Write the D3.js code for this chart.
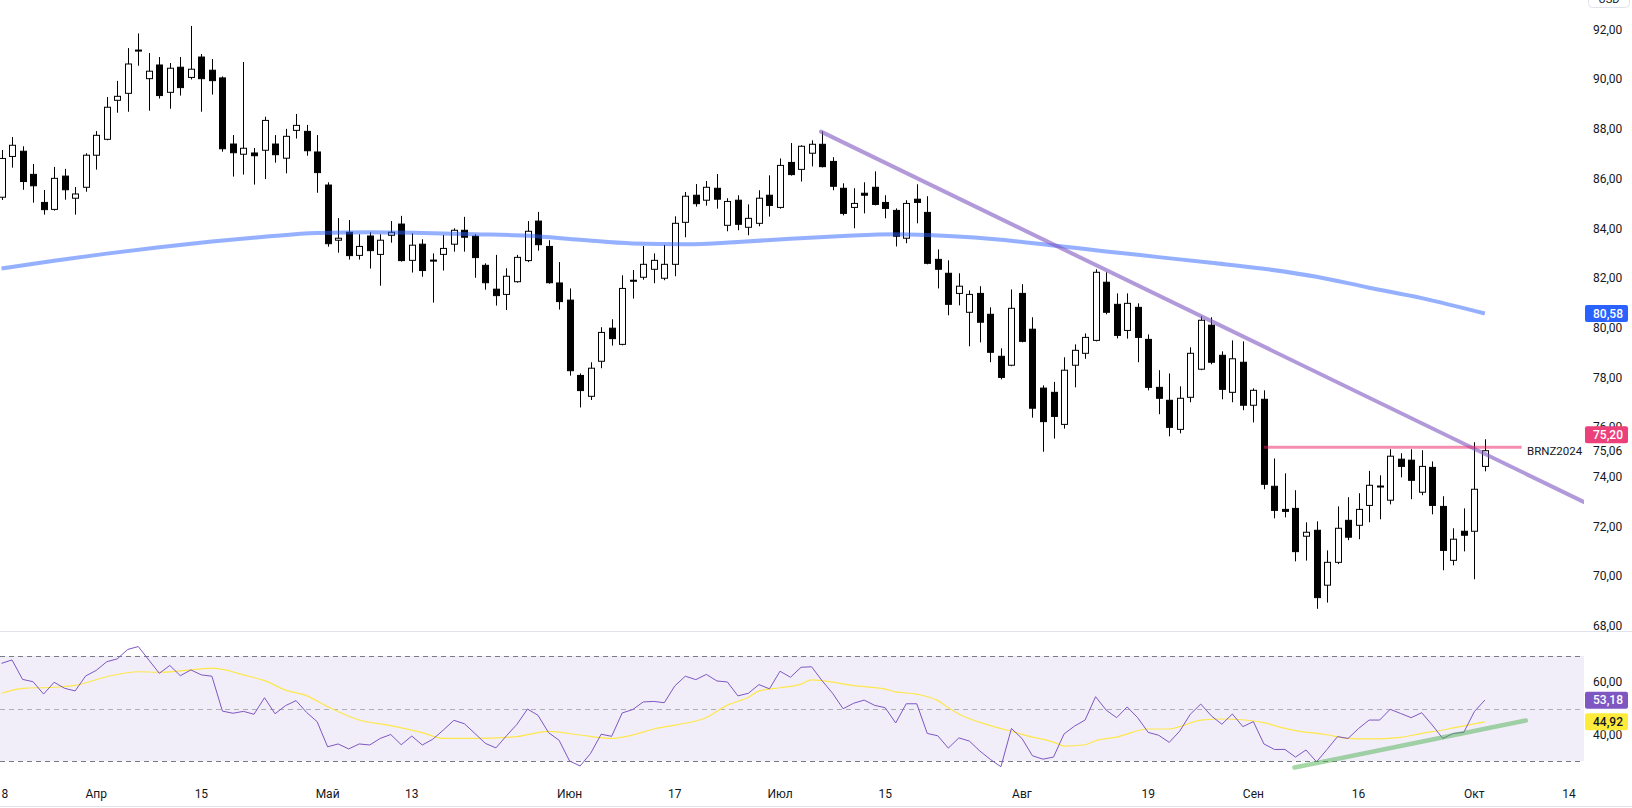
<!DOCTYPE html>
<html>
<head>
<meta charset="utf-8">
<script src="https://cdn.jsdelivr.net/npm/d3@7"></script>
<style>
  body { margin: 0; background: #fff; }
  text { font-family: Roboto, "Liberation Sans", Arial, sans-serif; }
</style>
</head>
<body>
<div id="chart"></div>
<script>
// BRNZ2024 daily candles with 200 MA, trend lines and RSI pane

// candle values, one per trading day (18 Mar .. 2 Oct)
const opens = [85.26,86.90,87.11,86.18,85.05,84.77,86.11,85.22,85.66,86.95,87.59,89.16,89.44,91.16,90.03,90.58,89.48,90.49,90.08,90.90,
  90.37,90.06,87.40,86.99,87.04,87.15,87.40,86.83,87.95,87.91,87.08,85.75,83.53,83.85,82.92,83.70,82.96,83.73,84.18,82.72,
  83.37,82.73,82.96,83.37,83.93,83.69,82.52,81.56,81.35,81.86,82.71,84.30,83.28,81.81,81.12,78.09,77.25,78.66,79.99,79.34,
  81.92,82.04,82.36,82.00,82.56,84.25,85.34,85.14,85.62,84.13,85.14,84.05,84.21,85.34,84.85,86.66,86.38,87.03,87.39,86.70,
  85.62,84.85,85.42,85.66,85.05,84.73,83.61,85.18,84.65,82.76,82.20,81.39,80.63,81.39,80.55,78.86,78.50,81.39,79.95,77.58,
  77.41,76.12,78.50,78.98,79.50,81.84,80.95,79.90,80.83,79.54,77.61,77.09,75.92,77.21,78.34,80.11,78.90,77.41,78.62,76.89,
  77.13,73.63,72.70,72.74,71.62,71.86,69.65,70.57,72.26,72.06,72.86,73.60,73.07,74.72,74.68,73.39,74.39,72.82,70.65,71.82,
  71.82,74.43];
const highs = [87.16,87.68,87.31,86.60,85.55,86.48,86.40,85.67,87.03,87.92,89.29,89.94,91.26,91.85,91.06,90.90,90.66,90.90,92.15,91.02,
  90.82,90.12,87.76,90.70,87.24,88.50,87.76,88.01,88.61,88.17,87.76,85.86,84.42,84.34,83.77,83.85,83.77,84.30,84.51,83.81,
  83.57,83.00,83.74,84.01,84.47,83.77,82.60,82.94,82.40,82.94,84.30,84.67,83.53,82.65,81.59,78.17,78.62,80.03,80.35,82.12,
  82.33,83.30,83.00,83.34,84.49,85.47,85.79,85.91,86.19,85.22,85.34,84.97,85.54,86.14,86.82,87.44,87.35,87.55,87.91,86.87,
  85.82,85.62,85.86,86.30,85.34,84.81,85.14,85.78,85.30,83.16,82.72,82.20,81.51,81.68,80.83,79.18,81.55,81.76,80.43,77.69,
  77.83,78.82,79.34,79.78,82.36,82.24,81.39,81.39,80.99,79.74,78.30,78.17,77.65,79.22,80.47,80.43,79.06,79.50,79.46,77.57,
  77.49,74.75,74.15,73.47,72.18,72.22,71.05,72.82,73.19,73.35,74.25,74.07,75.12,74.96,75.12,75.08,74.63,73.23,71.94,72.74,
  75.40,75.52];
const lows = [85.15,86.45,85.56,85.04,84.56,84.72,85.16,84.56,85.48,86.37,87.55,88.66,88.70,90.55,88.74,89.23,88.82,89.35,90.00,88.70,
  89.39,87.09,86.09,86.17,85.77,85.99,86.65,86.22,87.62,86.93,85.44,83.27,83.03,82.75,82.75,82.39,81.70,83.43,82.67,82.23,
  82.06,81.02,82.31,83.07,83.07,82.02,81.54,80.90,80.72,81.82,82.65,83.11,81.78,80.74,78.08,76.80,77.10,78.38,79.29,79.30,
  81.18,81.94,81.80,81.92,82.08,83.65,84.88,84.92,84.80,83.89,83.93,83.73,84.09,84.48,84.80,86.13,85.89,86.50,86.46,85.54,
  84.53,84.01,84.61,84.93,84.41,83.28,83.41,84.21,82.56,81.59,80.51,80.91,79.26,79.42,78.62,77.93,78.46,79.42,76.39,75.02,
  75.55,75.95,77.61,78.76,79.46,80.55,79.58,79.57,78.62,77.49,76.53,75.64,75.76,77.01,78.30,78.54,77.13,77.01,76.69,76.20,
  73.51,72.34,72.38,70.61,70.64,68.70,68.95,70.50,71.46,71.50,72.18,72.30,72.90,73.99,73.11,73.27,72.50,70.25,70.45,71.01,
  69.89,74.23];
const closes = [86.82,87.35,85.89,85.72,84.76,86.02,85.56,85.39,86.95,87.75,88.88,89.32,90.62,91.18,90.33,89.35,90.45,89.67,90.41,90.03,
  89.95,87.21,87.05,87.23,86.93,88.35,86.97,87.71,88.15,87.13,86.25,83.39,83.61,82.91,83.28,83.11,83.53,83.85,82.71,83.33,
  82.31,82.71,83.20,83.93,83.65,82.83,81.82,81.30,82.08,82.84,83.89,83.35,81.82,81.06,78.28,77.48,78.38,79.82,79.57,81.59,
  81.88,82.56,82.72,82.56,84.21,85.30,85.00,85.66,85.18,85.09,84.17,84.41,85.22,84.93,86.54,86.17,87.31,87.39,86.49,85.70,
  84.61,85.01,85.34,84.97,84.81,83.69,85.01,85.05,82.60,82.36,80.95,81.68,81.35,80.23,79.02,78.01,80.79,79.46,76.77,76.23,
  76.44,78.30,79.10,79.62,82.24,80.63,79.70,80.99,79.62,77.61,77.17,76.00,77.17,78.98,80.31,78.62,77.53,78.76,76.89,77.49,
  73.71,72.66,72.62,71.00,71.78,69.15,70.57,71.94,71.58,72.70,73.67,73.64,74.84,74.43,73.87,74.43,72.86,71.05,71.50,71.66,
  73.51,75.06];

// moving average read at sample days: [day index, value]
const maPoints = [[0,82.39],[5,82.70],[10,82.99],[15,83.25],[20,83.48],[25,83.67],[30,83.82],[35,83.85],[40,83.82],[45,83.77],
  [50,83.71],[55,83.55],[60,83.40],[65,83.37],[70,83.46],[75,83.59],[80,83.70],[85,83.77],[90,83.70],[95,83.55],
  [100,83.32],[105,83.08],[110,82.85],[115,82.62],[120,82.38],[125,82.06],[130,81.62],[135,81.20],[141,80.58]];

// RSI per day
const rsiValues = [67.2,68.5,61.1,60.2,55.5,60.0,57.7,56.7,62.4,64.5,67.8,68.9,72.5,73.6,68.5,63.4,66.4,62.5,64.7,62.8,
  62.3,49.0,48.2,48.9,47.8,54.1,48.0,51.1,53.0,48.5,45.0,35.4,36.5,34.6,36.5,36.1,38.6,40.1,36.2,39.5,
  36.1,38.3,41.8,45.5,44.2,40.5,36.7,35.0,39.6,44.0,49.8,47.4,40.8,37.9,30.0,28.1,32.9,40.2,39.4,48.3,
  49.6,52.5,52.7,52.2,58.6,62.3,61.0,63.0,60.5,60.1,54.8,55.8,59.1,57.5,64.2,61.9,65.7,65.9,60.6,55.8,
  49.9,52.0,53.2,51.2,50.3,44.5,51.8,51.8,40.5,39.6,34.9,38.8,37.6,33.8,30.6,27.8,42.4,38.6,32.0,30.7,
  31.5,40.3,43.3,45.6,54.5,49.4,46.5,50.6,46.5,40.9,39.8,37.1,41.4,47.8,51.7,47.2,44.0,47.9,43.1,45.0,
  36.5,34.4,34.4,31.5,34.2,29.7,34.4,39.3,38.6,42.4,45.6,45.6,49.7,48.1,46.5,48.4,43.7,38.6,40.5,40.9,
  48.8,53.2];

// RSI moving average read at sample days
const rsiMaPoints = [[0,55.8],[2,57.7],[5,58.1],[7,58.8],[10,62.1],[13,64.0],[15,63.8],[17,64.3],[20,65.4],[21,64.9],
  [23,62.8],[25,60.6],[27,57.0],[29,54.9],[31,50.7],[34,45.6],[37,43.5],[40,40.8],[42,38.6],[45,38.6],
  [49,39.3],[51,40.8],[52,41.3],[55,39.9],[58,38.6],[60,39.9],[62,42.2],[64,43.7],[67,46.6],[69,51.3],
  [71,54.3],[72,56.7],[74,57.9],[76,59.3],[77,60.9],[78,60.6],[81,58.7],[84,57.4],[85,56.3],[87,55.5],
  [89,53.0],[90,50.3],[91,47.9],[94,43.5],[96,41.3],[98,39.1],[100,37.2],[101,35.7],[103,36.2],[104,37.7],
  [106,39.1],[109,42.2],[111,42.2],[112,43.1],[114,45.6],[116,46.0],[117,45.9],[120,44.6],[122,42.4],[123,41.6],
  [126,40.0],[128,38.6],[130,38.4],[133,39.0],[135,40.5],[137,41.8],[138,42.6],[141,44.9]];

// drawings: [day index, value]
const trendLine = [[77.9, 87.9], [150.4, 73.0]];
const levelLine = [[120, 75.20], [144.5, 75.20]];
const rsiTrend = [[122.9, 27.5], [144.9, 45.4]];

// axis ticks
const priceTicks = [92, 90, 88, 86, 84, 82, 80, 78, 76, 74, 72, 70, 68];
const rsiTicks = [60, 40];
const timeTicks = [[0, "18"], [9, "Апр"], [19, "15"], [31, "Май"], [39, "13"], [54, "Июн"], [64, "17"],
  [74, "Июл"], [84, "15"], [97, "Авг"], [109, "19"], [119, "Сен"], [129, "16"], [140, "Окт"], [149, "14"]];

const lastPrice = 75.06, maLast = 80.58, levelPrice = 75.20, rsiLast = 53.18, rsiMaLast = 44.92;

const W = 1632, H = 808;
const plotRight = 1584;
const paneSplit = 631;

const svg = d3.select("#chart").append("svg")
  .attr("width", W)
  .attr("height", H);

const x = d3.scaleLinear().domain([0, 149]).range([1.5, 1569]);
const y = d3.scaleLinear().domain([68, 92]).range([626.2, 29.7]);
const yr = d3.scaleLinear().domain([30, 70]).range([761, 656]);

const fmt = v => d3.format(".2f")(v).replace(".", ",");

const defs = svg.append("defs");
defs.append("clipPath").attr("id", "clip-main")
  .append("rect").attr("x", 0).attr("y", 0).attr("width", plotRight).attr("height", paneSplit);
defs.append("clipPath").attr("id", "clip-rsi")
  .append("rect").attr("x", 0).attr("y", paneSplit).attr("width", plotRight).attr("height", 176);

// ---- main pane ----
const main = svg.append("g").attr("clip-path", "url(#clip-main)");

const candles = d3.range(opens.length).map(i => ({
  i, o: opens[i], h: highs[i], l: lows[i], c: closes[i]
}));

const cg = main.selectAll("g.candle")
  .data(candles)
  .enter()
  .append("g")
  .attr("class", "candle");

cg.append("line")
  .attr("x1", d => Math.round(x(d.i)) + 0.5)
  .attr("x2", d => Math.round(x(d.i)) + 0.5)
  .attr("y1", d => y(d.h))
  .attr("y2", d => y(d.l))
  .attr("stroke", "#000")
  .attr("stroke-width", 1);

cg.append("rect")
  .attr("x", d => Math.round(x(d.i)) - 2.5)
  .attr("width", 6)
  .attr("y", d => y(Math.max(d.o, d.c)))
  .attr("height", d => Math.max(1, Math.abs(y(d.o) - y(d.c))))
  .attr("fill", d => d.c >= d.o ? "#fff" : "#000")
  .attr("stroke", "#000")
  .attr("stroke-width", 1);

const line = d3.line().x(d => x(d[0])).y(d => y(d[1]));

main.append("path")
  .datum(maPoints)
  .attr("d", line.curve(d3.curveMonotoneX))
  .attr("fill", "none")
  .attr("stroke", "rgba(41,98,255,0.5)")
  .attr("stroke-width", 4);

main.append("path")
  .datum(trendLine)
  .attr("d", d3.line().x(d => x(d[0])).y(d => y(d[1])))
  .attr("stroke", "rgba(126,87,194,0.6)")
  .attr("stroke-width", 4)
  .attr("stroke-linecap", "round");

main.append("path")
  .datum(levelLine)
  .attr("d", d3.line().x(d => x(d[0])).y(d => y(d[1])))
  .attr("stroke", "rgba(233,30,99,0.5)")
  .attr("stroke-width", 3);

main.append("text")
  .attr("x", 1527)
  .attr("y", y(lastPrice))
  .attr("dominant-baseline", "central")
  .attr("font-size", 11.5)
  .attr("fill", "#131722")
  .text("BRNZ2024");

// ---- RSI pane ----
const rsiG = svg.append("g").attr("clip-path", "url(#clip-rsi)");

rsiG.append("rect")
  .attr("x", 0)
  .attr("width", plotRight)
  .attr("y", yr(70))
  .attr("height", yr(30) - yr(70))
  .attr("fill", "rgba(126,87,194,0.1)");

[[70, "#787b86"], [50, "rgba(120,123,134,0.55)"], [30, "#787b86"]].forEach(([v, col]) => {
  rsiG.append("line")
    .attr("x1", 0).attr("x2", plotRight)
    .attr("y1", Math.round(yr(v)) + 0.5).attr("y2", Math.round(yr(v)) + 0.5)
    .attr("stroke", col)
    .attr("stroke-dasharray", "5,4");
});

rsiG.append("path")
  .datum(rsiMaPoints)
  .attr("d", d3.line().x(d => x(d[0])).y(d => yr(d[1])).curve(d3.curveMonotoneX))
  .attr("fill", "none")
  .attr("stroke", "#fde74c")
  .attr("stroke-width", 1.2);

rsiG.append("path")
  .datum(rsiValues)
  .attr("d", d3.line().x((d, i) => x(i)).y(d => yr(d)))
  .attr("fill", "none")
  .attr("stroke", "#7e57c2")
  .attr("stroke-width", 1);

rsiG.append("path")
  .datum(rsiTrend)
  .attr("d", d3.line().x(d => x(d[0])).y(d => yr(d[1])))
  .attr("stroke", "rgba(76,175,80,0.5)")
  .attr("stroke-width", 4.5)
  .attr("stroke-linecap", "round");

// ---- separators ----
svg.append("line")
  .attr("x1", 0).attr("x2", W)
  .attr("y1", paneSplit + 0.5).attr("y2", paneSplit + 0.5)
  .attr("stroke", "#e0e3eb");

svg.append("line")
  .attr("x1", 0).attr("x2", W)
  .attr("y1", H - 1.5).attr("y2", H - 1.5)
  .attr("stroke", "#e0e3eb");

// ---- price axis ----
const axisX = 1593;

svg.selectAll("text.ptick")
  .data(priceTicks)
  .enter()
  .append("text")
  .attr("class", "ptick")
  .attr("x", axisX)
  .attr("y", d => y(d))
  .attr("dominant-baseline", "central")
  .attr("font-size", 12)
  .attr("fill", "#131722")
  .text(d => fmt(d));

svg.selectAll("text.rtick")
  .data(rsiTicks)
  .enter()
  .append("text")
  .attr("class", "rtick")
  .attr("x", axisX)
  .attr("y", d => yr(d))
  .attr("dominant-baseline", "central")
  .attr("font-size", 12)
  .attr("fill", "#131722")
  .text(d => fmt(d));

// last price text
svg.append("rect")
  .attr("x", 1586).attr("width", 42)
  .attr("y", y(lastPrice) - 8).attr("height", 16)
  .attr("fill", "#fff");
svg.append("text")
  .attr("x", axisX)
  .attr("y", y(lastPrice))
  .attr("dominant-baseline", "central")
  .attr("font-size", 12)
  .attr("fill", "#131722")
  .text(fmt(lastPrice));

function badge(cy, value, bg, fg) {
  svg.append("rect")
    .attr("x", 1585).attr("width", 43)
    .attr("y", cy - 8.5).attr("height", 17)
    .attr("rx", 2)
    .attr("fill", bg);
  svg.append("text")
    .attr("x", axisX)
    .attr("y", cy)
    .attr("dominant-baseline", "central")
    .attr("font-size", 12)
    .attr("font-weight", 500)
    .attr("fill", fg)
    .text(fmt(value));
}

badge(y(maLast), maLast, "#2962ff", "#fff");
// level badge is pushed up so it does not cover the last price
badge(y(lastPrice) - 16, levelPrice, "#ec407a", "#fff");
badge(yr(rsiLast), rsiLast, "#7e57c2", "#fff");
badge(yr(rsiMaLast), rsiMaLast, "#ffeb3b", "#131722");

// currency button at the top right
svg.append("rect")
  .attr("x", 1588.5).attr("y", -12.5)
  .attr("width", 41).attr("height", 20)
  .attr("rx", 4)
  .attr("fill", "#fff")
  .attr("stroke", "#e0e3eb");
svg.append("text")
  .attr("x", 1609).attr("y", 3)
  .attr("text-anchor", "middle")
  .attr("font-size", 11)
  .attr("fill", "#131722")
  .text("USD");

// ---- time axis ----
svg.selectAll("text.ttick")
  .data(timeTicks)
  .enter()
  .append("text")
  .attr("class", "ttick")
  .attr("x", d => x(d[0]))
  .attr("y", 794)
  .attr("text-anchor", "middle")
  .attr("dominant-baseline", "central")
  .attr("font-size", 12)
  .attr("fill", "#131722")
  .text(d => d[1]);
</script>
</body>
</html>
